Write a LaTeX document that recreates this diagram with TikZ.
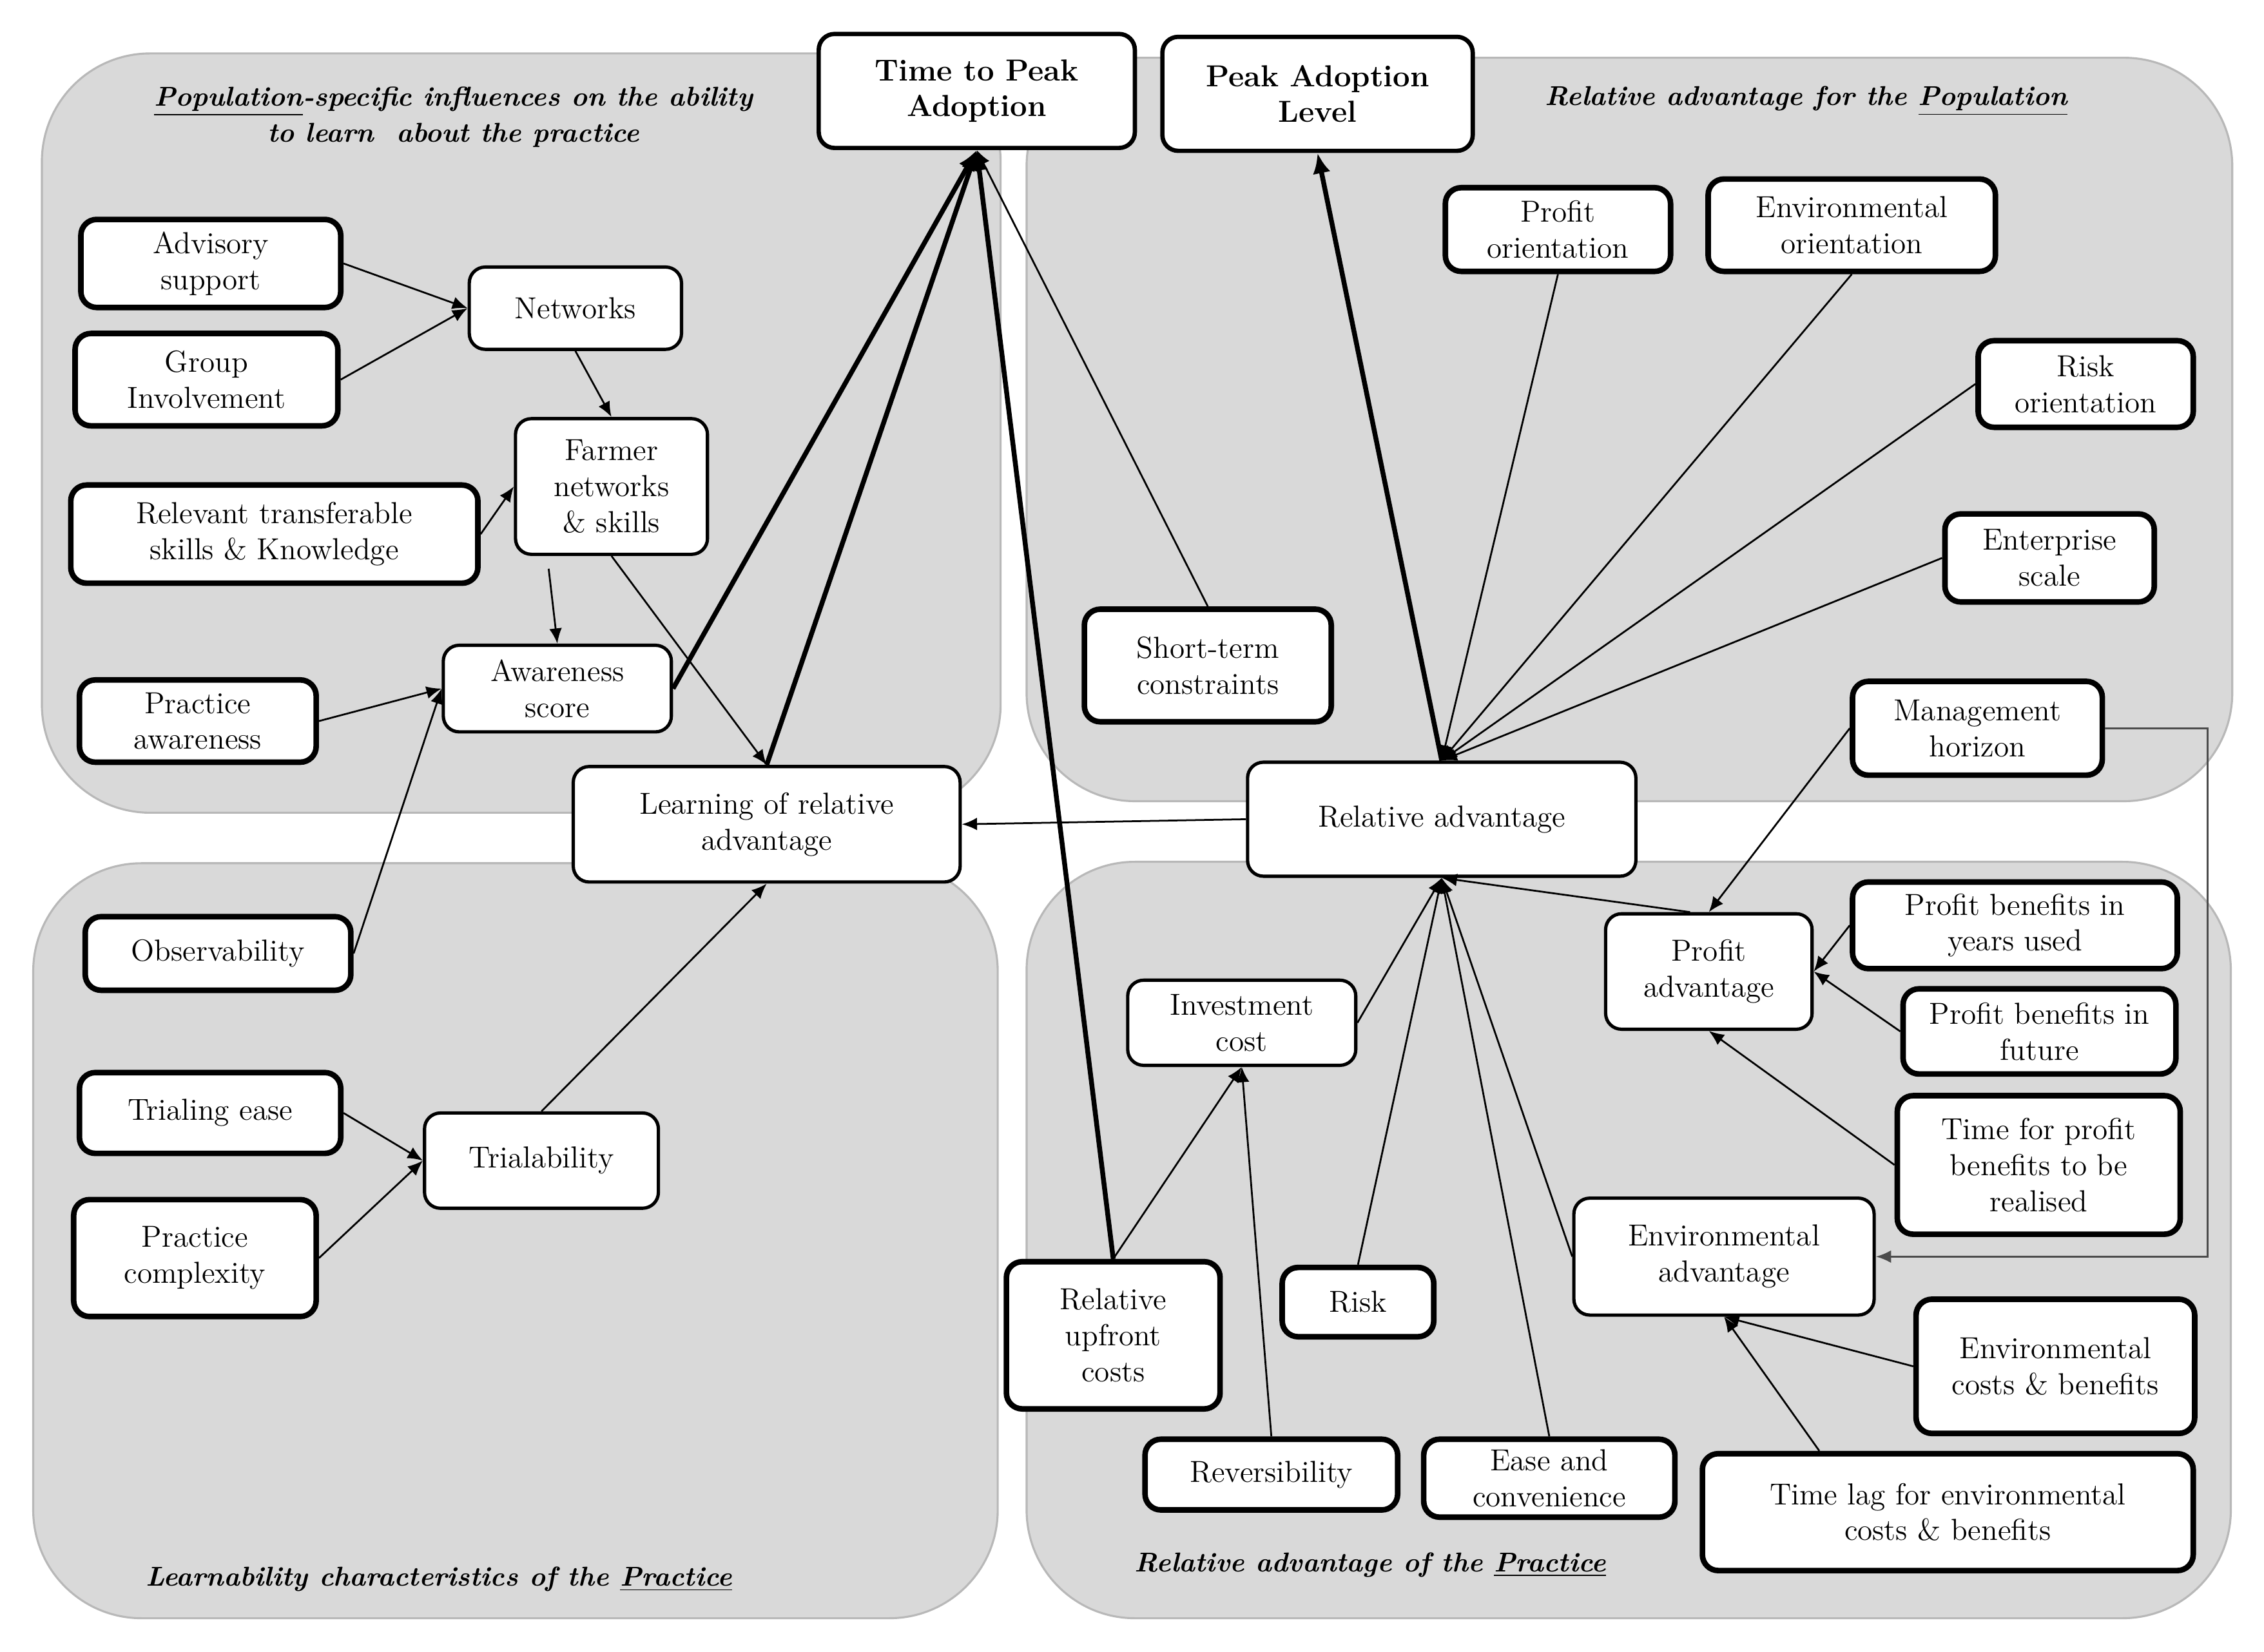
\documentclass[tikz,border=0pt]{standalone}
\usepackage{fontspec}
\usetikzlibrary{arrows.meta,calc}
\definecolor{panelfill}{HTML}{D9D9D9}
\definecolor{panelline}{HTML}{B8B8B8}
\begin{document}
\begin{tikzpicture}[x=0.02cm,y=-0.02cm,
  font=\fontsize{12}{14.2}\selectfont,
  panel/.style={fill=panelfill,draw=panelline,line width=0.8pt,rounded corners=1.5cm},
  box/.style={draw,fill=white,rounded corners=0.22cm,align=center,inner sep=1pt},
  tbox/.style={box,line width=2.2pt},
  mbox/.style={box,line width=1.3pt},
  hbox/.style={box,line width=1.7pt,font=\fontsize{12}{14.2}\selectfont\bfseries},
  ttl/.style={align=center,font=\fontsize{10.75}{14.2}\selectfont\bfseries\itshape},
  conn/.style={line width=0.7pt,-{Latex[length=6pt,width=5pt]}},
  bconn/.style={line width=1.9pt,-{Latex[length=8pt,width=7pt]}},
  elbow/.style={line width=0.8pt,draw=black!70,-{Latex[length=6pt,width=5pt]}}]
\useasboundingbox (0,0) rectangle (1568,1144);
% panels
\draw[panel] (29,37) rectangle (693,563);
\draw[panel] (711,40) rectangle (1546,555);
\draw[panel] (23,598) rectangle (691,1121);
\draw[panel] (711,597) rectangle (1545,1121);
% panel titles
\node[ttl] (t1) at (314,81) {\underline{Population}-specific influences on the ability\\to learn\ \ about the practice};
\node[ttl] (t2) at (1251,70) {Relative advantage for the \underline{Population}};
\node[ttl] (t3) at (304,1094) {Learnability characteristics of the \underline{Practice}};
\node[ttl] (t4) at (949,1084) {Relative advantage of the \underline{Practice}};
% top nodes
\node[hbox,minimum width=4.38cm,minimum height=1.58cm] (ttpa) at (676.5,63) {Time to Peak\\Adoption};
\node[hbox,minimum width=4.3cm,minimum height=1.58cm] (pal) at (912.5,65) {Peak Adoption\\Level};
% top-left
\node[tbox,minimum width=3.6cm,minimum height=1.22cm] (adv) at (146,182.5) {Advisory\\support};
\node[tbox,minimum width=3.64cm,minimum height=1.28cm] (grp) at (143,263) {Group\\Involvement};
\node[mbox,minimum width=2.94cm,minimum height=1.14cm] (net) at (398.5,213.5) {Networks};
\node[mbox,minimum width=2.66cm,minimum height=1.88cm] (farm) at (423.5,337) {Farmer\\networks\\\& skills};
\node[tbox,minimum width=5.64cm,minimum height=1.36cm] (rel) at (190,370) {Relevant transferable\\skills \& Knowledge};
\node[mbox,minimum width=3.16cm,minimum height=1.2cm] (aw) at (386,477) {Awareness\\score};
\node[tbox,minimum width=3.28cm,minimum height=1.14cm] (pa) at (137,499.5) {Practice\\awareness};
\node[mbox,minimum width=5.36cm,minimum height=1.6cm] (learn) at (531,571) {Learning of relative\\advantage};
% bottom-left
\node[tbox,minimum width=3.68cm,minimum height=1.02cm] (obs) at (151,660.5) {Observability};
\node[tbox,minimum width=3.62cm,minimum height=1.12cm] (te) at (145.5,771) {Trialing ease};
\node[mbox,minimum width=3.24cm,minimum height=1.32cm] (trial) at (375,804) {Trialability};
\node[tbox,minimum width=3.36cm,minimum height=1.62cm] (pc) at (135,871.5) {Practice\\complexity};
% top-right
\node[tbox,minimum width=3.12cm,minimum height=1.16cm] (po) at (1079,159) {Profit\\orientation};
\node[tbox,minimum width=3.98cm,minimum height=1.28cm] (eo) at (1282.5,156) {Environmental\\orientation};
\node[tbox,minimum width=2.98cm,minimum height=1.2cm] (ro) at (1444.5,266) {Risk\\orientation};
\node[tbox,minimum width=2.9cm,minimum height=1.22cm] (es) at (1419.5,386.5) {Enterprise\\scale};
\node[tbox,minimum width=3.42cm,minimum height=1.56cm] (stc) at (836.5,461) {Short-term\\constraints};
\node[tbox,minimum width=3.46cm,minimum height=1.3cm] (mh) at (1369.5,504.5) {Management\\horizon};
\node[mbox,minimum width=5.38cm,minimum height=1.58cm] (ra) at (998.5,567.5) {Relative advantage};
% bottom-right
\node[mbox,minimum width=3.16cm,minimum height=1.18cm] (ic) at (860,708.5) {Investment\\cost};
\node[mbox,minimum width=2.86cm,minimum height=1.6cm] (pra) at (1183.5,673) {Profit\\advantage};
\node[tbox,minimum width=4.5cm,minimum height=1.2cm] (pby) at (1395.5,641) {Profit benefits in\\years used};
\node[tbox,minimum width=3.78cm,minimum height=1.18cm] (pbf) at (1412.5,714.5) {Profit benefits in\\future};
\node[tbox,minimum width=3.92cm,minimum height=1.92cm] (tfp) at (1412,807) {Time for profit\\benefits to be\\realised};
\node[mbox,minimum width=4.16cm,minimum height=1.62cm] (ea) at (1194,870.5) {Environmental\\advantage};
\node[tbox,minimum width=2.96cm,minimum height=2.04cm] (ruc) at (771,925) {Relative\\upfront\\costs};
\node[tbox,minimum width=2.1cm,minimum height=0.96cm] (risk) at (940.5,902) {Risk};
\node[tbox,minimum width=3.5cm,minimum height=0.98cm] (rev) at (880.5,1021.5) {Reversibility};
\node[tbox,minimum width=3.48cm,minimum height=1.08cm] (ease) at (1073,1024) {Ease and\\convenience};
\node[tbox,minimum width=3.86cm,minimum height=1.86cm] (ecb) at (1423.5,946.5) {Environmental\\costs \& benefits};
\node[tbox,minimum width=6.8cm,minimum height=1.62cm] (tl) at (1349,1047.5) {Time lag for environmental\\costs \& benefits};
% helper coordinates
\coordinate (farmA) at (380,394);
\coordinate (praA) at ($(pra.north)+(-13,0)$);
\coordinate (tlA) at ($(tl.north)+(-89,0)$);
% connectors: left
\draw[conn] (adv.east) -- (net.west);
\draw[conn] (grp.east) -- (net.west);
\draw[conn] (net.south) -- (farm.north);
\draw[conn] (rel.east) -- (farm.west);
\draw[conn] (farmA) -- (aw.north);
\draw[conn] (farm.south) -- (learn.north);
\draw[conn] (pa.east) -- (aw.west);
\draw[conn] (obs.east) -- (aw.west);
\draw[conn] (te.east) -- (trial.west);
\draw[conn] (pc.east) -- (trial.west);
\draw[conn] (trial.north) -- (learn.south);
\draw[conn] (ra.west) -- (learn.east);
% to time to peak adoption
\draw[bconn] (aw.east) -- (ttpa.south);
\draw[bconn] (learn.north) -- (ttpa.south);
\draw[bconn] (ruc.north) -- (ttpa.south);
\draw[conn] (stc.north) -- (ttpa.south);
% to peak adoption level
\draw[bconn] (ra.north) -- (pal.south);
% population relative advantage
\draw[conn] (po.south) -- (ra.north);
\draw[conn] (eo.south) -- (ra.north);
\draw[conn] (ro.west) -- (ra.north);
\draw[conn] (es.west) -- (ra.north);
\draw[conn] (mh.west) -- (pra.north);
\draw[elbow] (mh.east) -- ++(71,0) |- (ea.east);
% practice relative advantage
\draw[conn] (praA) -- (ra.south);
\draw[conn] (ic.east) -- (ra.south);
\draw[conn] (risk.north) -- (ra.south);
\draw[conn] (ease.north) -- (ra.south);
\draw[conn] (ea.west) -- (ra.south);
\draw[conn] (ruc.north) -- (ic.south);
\draw[conn] (rev.north) -- (ic.south);
\draw[conn] (pby.west) -- (pra.east);
\draw[conn] (pbf.west) -- (pra.east);
\draw[conn] (tfp.west) -- (pra.south);
\draw[conn] (ecb.west) -- (ea.south);
\draw[conn] (tlA) -- (ea.south);
\end{tikzpicture}
\end{document}
